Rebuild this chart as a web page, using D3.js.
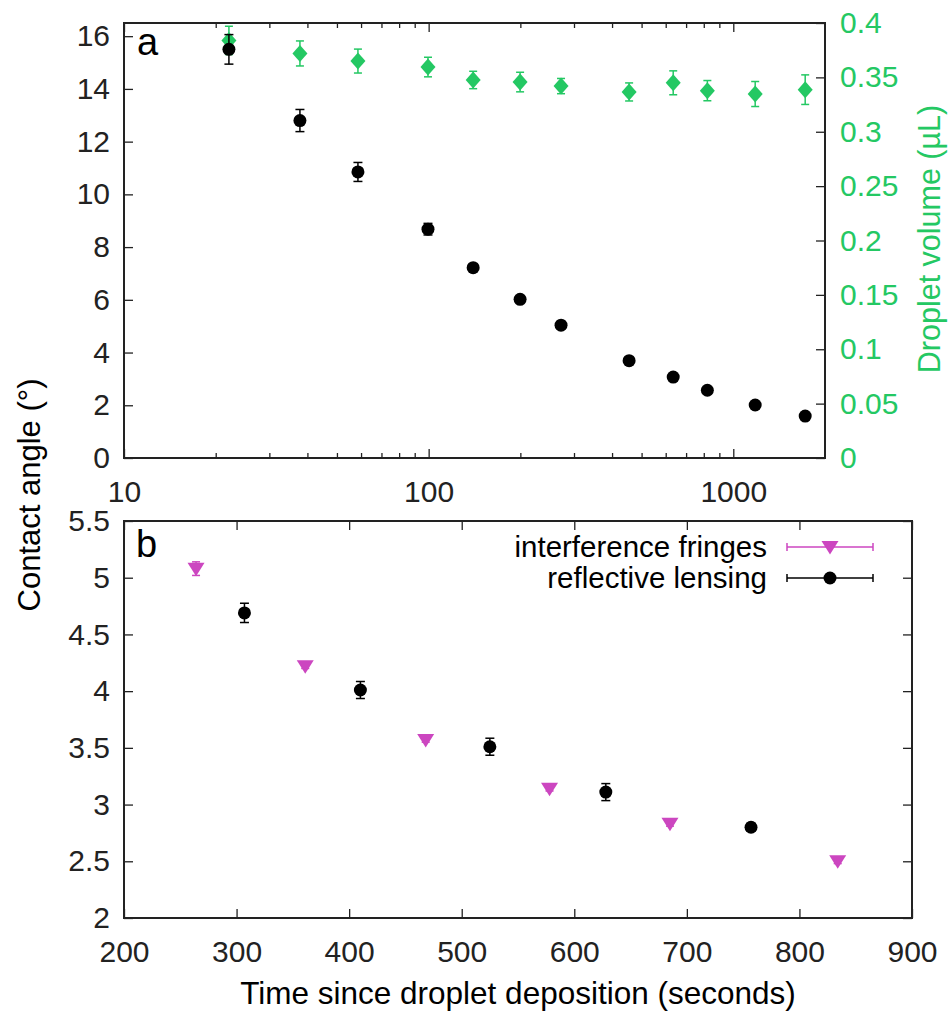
<!DOCTYPE html>
<html>
<head>
<meta charset="utf-8">
<script src="https://cdn.jsdelivr.net/npm/d3@7"></script>
<style>
  body { margin: 0; background: #fff; }
  text { font-family: "Liberation Sans", Arial, sans-serif; }
</style>
</head>
<body>
<div id="chart"></div>
<script>
var W = 948, H = 1014;

// panel a: contact angle and droplet volume vs time (log)
var angleTime = [22.1, 37.8, 58.6, 99.5, 140, 199.6, 272, 455, 635, 822, 1180, 1722];
var angleVal  = [15.5, 12.8, 10.85, 8.68, 7.22, 6.02, 5.04, 3.69, 3.07, 2.57, 2.01, 1.59];
var angleErr  = [0.56, 0.42, 0.36, 0.22, 0.1, 0.1, 0.1, 0.1, 0.1, 0.1, 0.1, 0.1];

var volTime = [22.1, 37.8, 58.6, 99.5, 140, 199.6, 272, 455, 635, 822, 1180, 1722];
var volVal  = [0.384, 0.372, 0.365, 0.3595, 0.3476, 0.3457, 0.342, 0.3366, 0.345, 0.3378, 0.3347, 0.3387];
var volErr  = [0.013, 0.0115, 0.011, 0.009, 0.008, 0.009, 0.007, 0.0083, 0.011, 0.0093, 0.0115, 0.0136];

// panel b: contact angle vs time (linear)
var fringeTime = [264, 361, 468, 578, 685, 834];
var fringeVal  = [5.08, 4.22, 3.57, 3.14, 2.83, 2.5];
var fringeErr  = [0.06, 0.02, 0.02, 0.02, 0.02, 0.02];

var lensTime = [307, 410, 525, 628, 757];
var lensVal  = [4.69, 4.01, 3.51, 3.11, 2.80];
var lensErr  = [0.085, 0.075, 0.075, 0.075, 0.035];

var xTicksA = [10, 100, 1000];
var xMinorA = [20, 30, 40, 50, 60, 70, 80, 90, 200, 300, 400, 500, 600, 700, 800, 900];
var yTicksA = [0, 2, 4, 6, 8, 10, 12, 14, 16];
var y2TicksA = [0, 0.05, 0.1, 0.15, 0.2, 0.25, 0.3, 0.35, 0.4];
var xTicksB = [200, 300, 400, 500, 600, 700, 800, 900];
var yTicksB = [2, 2.5, 3, 3.5, 4, 4.5, 5, 5.5];

var GREEN = "#24c863", PINK = "#cc46c0", INK = "#222";

var svg = d3.select("#chart").append("svg")
  .attr("width", W).attr("height", H);

var pa = {l: 124, r: 825, t: 23, b: 458};
var pb = {l: 124, r: 912, t: 521, b: 918};

var xa = d3.scaleLog().domain([10, 2000]).range([pa.l, pa.r]);
var ya = d3.scaleLinear().domain([0, 16.5]).range([pa.b, pa.t]);
var ya2 = d3.scaleLinear().domain([0, 0.4]).range([pa.b, pa.t]);
var xb = d3.scaleLinear().domain([200, 900]).range([pb.l, pb.r]);
var yb = d3.scaleLinear().domain([2, 5.5]).range([pb.b, pb.t]);

function styleAxis(g, color) {
  g.select(".domain").remove();
  g.attr("font-family", null).attr("font-size", null);
  g.selectAll("line").attr("stroke", INK).attr("stroke-width", 1.3);
  g.selectAll("text").attr("font-size", 30).attr("fill", color || INK);
}

function noLabel() { return ""; }

// ---- panel a axes
svg.append("g").attr("transform", "translate(0," + pa.b + ")")
  .call(d3.axisBottom(xa).tickValues(xTicksA).tickFormat(d3.format("d")).tickSize(-9).tickPadding(23))
  .call(styleAxis);
svg.append("g").attr("transform", "translate(0," + pa.b + ")")
  .call(d3.axisBottom(xa).tickValues(xMinorA).tickFormat(noLabel).tickSize(-5))
  .call(styleAxis);
svg.append("g").attr("transform", "translate(0," + pa.t + ")")
  .call(d3.axisTop(xa).tickValues(xTicksA).tickFormat(noLabel).tickSize(-9))
  .call(styleAxis);
svg.append("g").attr("transform", "translate(0," + pa.t + ")")
  .call(d3.axisTop(xa).tickValues(xMinorA).tickFormat(noLabel).tickSize(-5))
  .call(styleAxis);
svg.append("g").attr("transform", "translate(" + pa.l + ",0)")
  .call(d3.axisLeft(ya).tickValues(yTicksA).tickSize(-9).tickPadding(14))
  .call(styleAxis);
svg.append("g").attr("transform", "translate(" + pa.r + ",0)")
  .call(d3.axisRight(ya2).tickValues(y2TicksA).tickFormat(d3.format("~g")).tickSize(-9).tickPadding(15))
  .call(function(g) { styleAxis(g, GREEN); });

svg.append("rect")
  .attr("x", pa.l).attr("y", pa.t)
  .attr("width", pa.r - pa.l).attr("height", pa.b - pa.t)
  .attr("fill", "none").attr("stroke", INK).attr("stroke-width", 2);

// ---- panel b axes
svg.append("g").attr("transform", "translate(0," + pb.b + ")")
  .call(d3.axisBottom(xb).tickValues(xTicksB).tickSize(-9).tickPadding(23))
  .call(styleAxis);
svg.append("g").attr("transform", "translate(0," + pb.t + ")")
  .call(d3.axisTop(xb).tickValues(xTicksB).tickFormat(noLabel).tickSize(-9))
  .call(styleAxis);
svg.append("g").attr("transform", "translate(" + pb.l + ",0)")
  .call(d3.axisLeft(yb).tickValues(yTicksB).tickFormat(d3.format("~g")).tickSize(-9).tickPadding(14))
  .call(styleAxis);
svg.append("g").attr("transform", "translate(" + pb.r + ",0)")
  .call(d3.axisRight(yb).tickValues(yTicksB).tickFormat(noLabel).tickSize(-9))
  .call(styleAxis);

svg.append("rect")
  .attr("x", pb.l).attr("y", pb.t)
  .attr("width", pb.r - pb.l).attr("height", pb.b - pb.t)
  .attr("fill", "none").attr("stroke", INK).attr("stroke-width", 2);

// ---- marks
function errorBars(g, xs, vs, es, x, y, color, cap) {
  var rows = xs.map(function(d, i) { return {x: d, v: vs[i], e: es[i]}; });
  var eb = g.append("g").attr("stroke", color).attr("stroke-width", 1.5);
  eb.selectAll(".v").data(rows).enter().append("line")
    .attr("x1", function(d) { return x(d.x); }).attr("x2", function(d) { return x(d.x); })
    .attr("y1", function(d) { return y(d.v - d.e); }).attr("y2", function(d) { return y(d.v + d.e); });
  [-1, 1].forEach(function(s) {
    eb.selectAll(".c" + s).data(rows).enter().append("line")
      .attr("x1", function(d) { return x(d.x) - cap; }).attr("x2", function(d) { return x(d.x) + cap; })
      .attr("y1", function(d) { return y(d.v + s * d.e); }).attr("y2", function(d) { return y(d.v + s * d.e); });
  });
  return rows;
}

var tri = "M-8.5,-6 L8.5,-6 L0,7.5 Z";

var gA = svg.append("g");
var volRows = errorBars(gA, volTime, volVal, volErr, xa, ya2, GREEN, 4);
gA.selectAll(".dia").data(volRows).enter().append("path")
  .attr("d", "M0,-8.5 L7.5,0 L0,8.5 L-7.5,0 Z")
  .attr("transform", function(d) { return "translate(" + xa(d.x) + "," + ya2(d.v) + ")"; })
  .attr("fill", GREEN);

var angRows = errorBars(gA, angleTime, angleVal, angleErr, xa, ya, "#000", 4.5);
gA.selectAll(".dot").data(angRows).enter().append("circle")
  .attr("cx", function(d) { return xa(d.x); })
  .attr("cy", function(d) { return ya(d.v); })
  .attr("r", 6.5).attr("fill", "#000");

var gB = svg.append("g");
var frRows = errorBars(gB, fringeTime, fringeVal, fringeErr, xb, yb, PINK, 4);
gB.selectAll(".tri").data(frRows).enter().append("path")
  .attr("d", tri)
  .attr("transform", function(d) { return "translate(" + xb(d.x) + "," + yb(d.v) + ")"; })
  .attr("fill", PINK);

var lnRows = errorBars(gB, lensTime, lensVal, lensErr, xb, yb, "#000", 4.5);
gB.selectAll(".dot").data(lnRows).enter().append("circle")
  .attr("cx", function(d) { return xb(d.x); })
  .attr("cy", function(d) { return yb(d.v); })
  .attr("r", 6.5).attr("fill", "#000");

// ---- legend
var legend = [
  {label: "interference fringes", color: PINK, shape: "tri"},
  {label: "reflective lensing", color: "#000", shape: "dot"}
];
legend.forEach(function(d, i) {
  var ly = 547 + i * 31;
  var g = svg.append("g");
  g.append("text").attr("x", 767).attr("y", ly).attr("dy", "0.35em")
    .attr("text-anchor", "end").attr("font-size", 29.5).attr("fill", "#000").text(d.label);
  g.append("line").attr("x1", 787).attr("x2", 873).attr("y1", ly).attr("y2", ly)
    .attr("stroke", d.color).attr("stroke-width", 1.5);
  [787, 873].forEach(function(cx) {
    g.append("line").attr("x1", cx).attr("x2", cx).attr("y1", ly - 4).attr("y2", ly + 4)
      .attr("stroke", d.color).attr("stroke-width", 1.5);
  });
  if (d.shape === "tri") {
    g.append("path").attr("d", tri).attr("transform", "translate(830," + ly + ")").attr("fill", d.color);
  } else {
    g.append("circle").attr("cx", 830).attr("cy", ly).attr("r", 6.5).attr("fill", d.color);
  }
});

// ---- labels
svg.append("text").attr("x", 137).attr("y", 55).attr("font-size", 38).text("a");
svg.append("text").attr("x", 136).attr("y", 557).attr("font-size", 38).text("b");

svg.append("text")
  .attr("transform", "translate(40,495) rotate(-90)")
  .attr("text-anchor", "middle").attr("font-size", 31).text("Contact angle (°)");

svg.append("text")
  .attr("transform", "translate(940,239) rotate(-90)")
  .attr("text-anchor", "middle").attr("font-size", 30.5).attr("fill", GREEN)
  .text("Droplet volume (µL)");

svg.append("text")
  .attr("x", 518).attr("y", 1004)
  .attr("text-anchor", "middle").attr("font-size", 31.5)
  .text("Time since droplet deposition (seconds)");
</script>
</body>
</html>
